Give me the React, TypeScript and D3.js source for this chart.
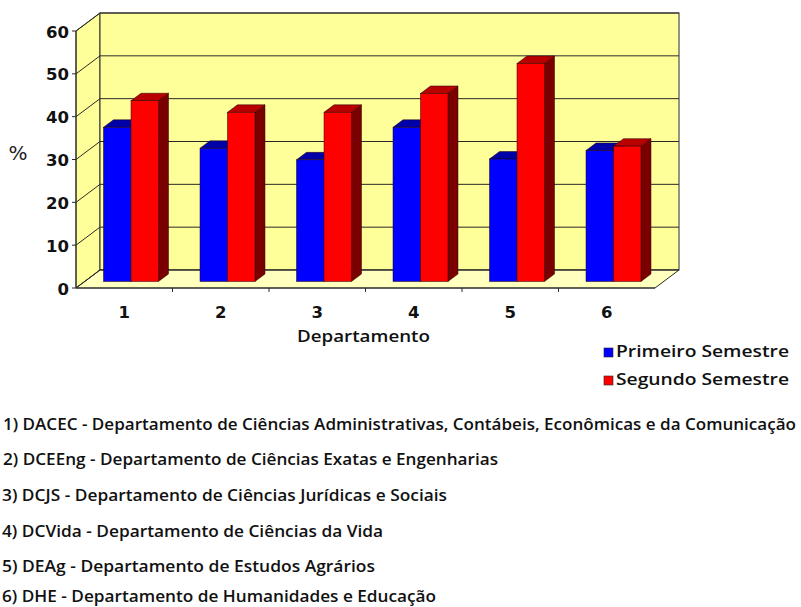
import React from 'react';
import * as d3 from 'd3';

const categories = ['1', '2', '3', '4', '5', '6'];
const seriesNames = ['Primeiro Semestre', 'Segundo Semestre'];
const primeiro = [36.0, 31.1, 28.4, 36.0, 28.6, 30.6];
const segundo = [42.2, 39.5, 39.5, 43.9, 50.9, 31.6];
const yTicks = [0, 10, 20, 30, 40, 50, 60];
const departamentos = [
  '1) DACEC - Departamento de Ciências Administrativas, Contábeis, Econômicas e da Comunicação',
  '2) DCEEng - Departamento de Ciências Exatas e Engenharias',
  '3) DCJS - Departamento de Ciências Jurídicas e Sociais',
  '4) DCVida - Departamento de Ciências da Vida',
  '5) DEAg  - Departamento de Estudos Agrários',
  '6) DHE - Departamento de Humanidades e Educação',
];

const seriesColors = [
  { front: '#0000ff', top: '#0000a8', side: '#000080' },
  { front: '#ff0000', top: '#b80000', side: '#7a0000' },
];

type Pt = [number, number];
const poly = (pts: Pt[]) => 'M' + pts.map((p) => p[0] + ',' + p[1]).join('L') + 'Z';

export default function App() {
  const W = 801;
  const H = 607;
  const x = d3.scaleBand<string>().domain(categories).range([76, 655]);
  const y = d3.scaleLinear().domain([0, 60]).range([288, 31]);
  const depth = { dx: 24, dy: -18 };
  const frontOff = { dx: 8.5, dy: -6.5 };
  const barDepth = { dx: 10, dy: -7.5 };
  const xs = d3.scaleBand<string>().domain(seriesNames).range([19, 74]);
  const values = [primeiro, segundo];

  const x0 = 76;
  const x1 = 655;
  const bx0 = x0 + depth.dx;
  const bx1 = x1 + depth.dx;
  const yTop = y(60);
  const yBot = y(0);
  const line = '#2a2a2a';

  const bars: React.ReactNode[] = [];
  categories.forEach((c, i) => {
    seriesNames.forEach((s, si) => {
      const v = values[si][i];
      const xl = (x(c) as number) + frontOff.dx + (xs(s) as number);
      const w = xs.bandwidth();
      const yt = y(v) + frontOff.dy;
      const yb = y(0) + frontOff.dy;
      const col = seriesColors[si];
      bars.push(
        <g key={c + s}>
          <path
            d={poly([
              [xl + w, yt],
              [xl + w + barDepth.dx, yt + barDepth.dy],
              [xl + w + barDepth.dx, yb + barDepth.dy],
              [xl + w, yb],
            ])}
            fill={col.side}
            stroke="#300"
            strokeWidth={0.5}
          />
          <path
            d={poly([
              [xl, yt],
              [xl + barDepth.dx, yt + barDepth.dy],
              [xl + w + barDepth.dx, yt + barDepth.dy],
              [xl + w, yt],
            ])}
            fill={col.top}
            stroke="#200"
            strokeWidth={0.5}
          />
          <rect x={xl} y={yt} width={w} height={yb - yt} fill={col.front} stroke="#200" strokeWidth={0.5} />
        </g>
      );
    });
  });

  const lineStarts = [3, 3, 2, 2, 2, 2];
  const lineEnds = [796, 498, 447, 383, 375, 436];
  const lineBase = [430, 465, 501, 537, 572, 602];

  return (
    <svg
      width={W}
      height={H}
      viewBox={`0 0 ${W} ${H}`}
      style={{ position: 'absolute', left: 0, top: 0, background: '#fff' }}
    >
      <rect x={0} y={0} width={W} height={H} fill="#fff" />
      {/* side wall */}
      <path
        d={poly([
          [x0, yBot],
          [x0, yTop],
          [bx0, yTop + depth.dy],
          [bx0, yBot + depth.dy],
        ])}
        fill="#ffff99"
        stroke={line}
        strokeWidth={1}
      />
      {/* back wall */}
      <rect x={bx0} y={yTop + depth.dy} width={bx1 - bx0} height={yBot - yTop} fill="#ffff99" stroke={line} strokeWidth={1} />
      {/* floor */}
      <path
        d={poly([
          [x0, yBot],
          [x1, yBot],
          [bx1, yBot + depth.dy],
          [bx0, yBot + depth.dy],
        ])}
        fill="#ffffbe"
        stroke={line}
        strokeWidth={1}
      />
      {/* gridlines */}
      {yTicks.map((t) => (
        <g key={'g' + t}>
          <line x1={x0} y1={y(t)} x2={bx0} y2={y(t) + depth.dy} stroke={line} strokeWidth={1} />
          <line x1={bx0} y1={y(t) + depth.dy} x2={bx1} y2={y(t) + depth.dy} stroke={line} strokeWidth={1} />
          <line x1={x0 - 4} y1={y(t)} x2={x0} y2={y(t)} stroke={line} strokeWidth={1} />
          <text
            x={69}
            y={y(t) + 1}
            textAnchor="end"
            dominantBaseline="central"
            fontFamily="'DejaVu Sans', Verdana, sans-serif"
            fontWeight="bold"
            fontSize={16.5}
            fill="#111"
          >
            {t}
          </text>
        </g>
      ))}
      <line x1={x0} y1={yBot} x2={x0} y2={yTop} stroke={line} strokeWidth={1} />
      <line x1={x0} y1={yBot} x2={x1} y2={yBot} stroke={line} strokeWidth={1} />
      {categories.map((c, i) => (
        <g key={'x' + c}>
          {i > 0 && <line x1={x(c) as number} y1={yBot} x2={x(c) as number} y2={yBot + 4} stroke={line} strokeWidth={1} />}
          <text
            x={(x(c) as number) + x.bandwidth() / 2}
            y={318}
            textAnchor="middle"
            fontFamily="'DejaVu Sans', Verdana, sans-serif"
            fontWeight="bold"
            fontSize={16.5}
            fill="#111"
          >
            {c}
          </text>
        </g>
      ))}
      {bars}
      {/* axis titles */}
      <text x={18} y={160} textAnchor="middle" fontFamily="'DejaVu Sans', sans-serif" fontSize={20} fill="#222">
        %
      </text>
      <text
        x={297}
        y={342}
        textLength={133}
        lengthAdjust="spacingAndGlyphs"
        fontFamily="'Open Sans', sans-serif"
        fontWeight={600}
        fontSize={17}
        fill="#111"
      >
        Departamento
      </text>
      {/* legend */}
      {seriesNames.map((s, i) => (
        <g key={'l' + s}>
          <rect x={604} y={348 + i * 28} width={9} height={9} fill={seriesColors[i].front} stroke="#222" strokeWidth={0.6} />
          <text
            x={616}
            y={357 + i * 28}
            textLength={173}
            lengthAdjust="spacingAndGlyphs"
            fontFamily="'Open Sans', sans-serif"
            fontWeight={600}
            fontSize={16}
            fill="#111"
          >
            {s}
          </text>
        </g>
      ))}
      {/* department list */}
      {departamentos.map((d, i) => (
        <text
          key={'d' + i}
          x={lineStarts[i]}
          y={lineBase[i]}
          textLength={lineEnds[i] - lineStarts[i]}
          lengthAdjust="spacingAndGlyphs"
          fontFamily="'Open Sans', sans-serif"
          fontWeight={600}
          fontSize={16}
          fill="#111"
        >
          {d}
        </text>
      ))}
    </svg>
  );
}
